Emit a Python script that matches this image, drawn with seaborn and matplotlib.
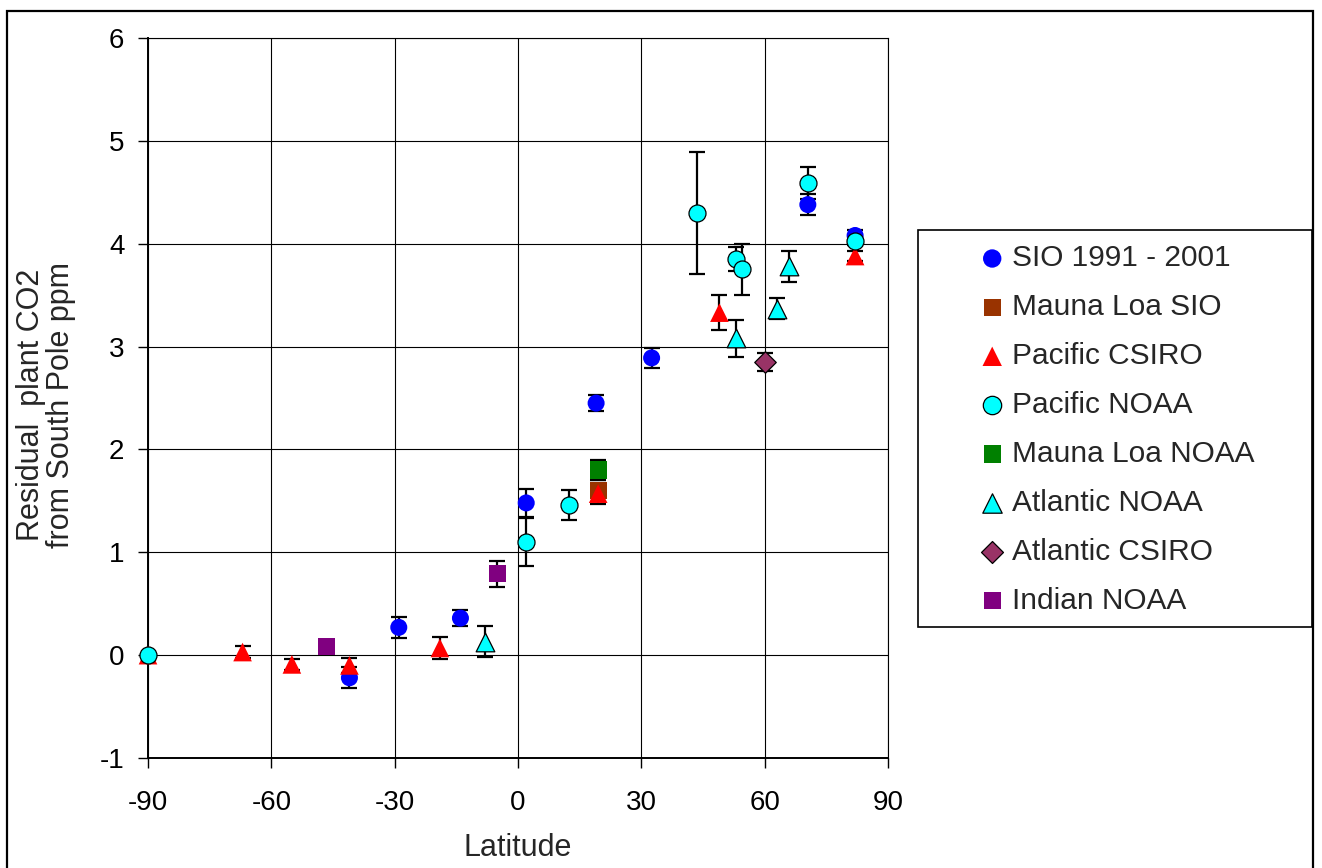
import matplotlib
matplotlib.use("Agg")
import matplotlib.pyplot as plt
import seaborn as sns
import pandas as pd
from matplotlib.patches import Rectangle

# ---------------- data ----------------
sio_lat = [-41, -29, -14, 2, 19, 32.5, 70.5, 82]
sio_val = [-0.22, 0.27, 0.36, 1.48, 2.45, 2.89, 4.38, 4.08]
sio_err = [0.10, 0.10, 0.08, 0.14, 0.08, 0.10, 0.10, 0.05]

mlsio_lat = [19.5]
mlsio_val = [1.60]
mlsio_err = [0.0]

pcs_lat = [-90, -67, -55, -41, -19, 19.5, 49, 82]
pcs_val = [0.0, 0.03, -0.09, -0.10, 0.07, 1.57, 3.33, 3.88]
pcs_err = [0.0, 0.06, 0.05, 0.07, 0.11, 0.10, 0.17, 0.05]

pno_lat = [-90, 2, 12.5, 43.5, 53, 54.5, 70.5, 82]
pno_val = [0.0, 1.10, 1.46, 4.30, 3.85, 3.75, 4.59, 4.03]
pno_err = [0.0, 0.23, 0.15, 0.59, 0.12, 0.25, 0.16, 0.04]

mlno_lat = [19.5]
mlno_val = [1.80]
mlno_err = [0.10]

ano_lat = [-8, 53, 63, 66]
ano_val = [0.13, 3.08, 3.37, 3.78]
ano_err = [0.15, 0.18, 0.10, 0.15]

acs_lat = [60]
acs_val = [2.85]
acs_err = [0.09]

ind_lat = [-46.5, -5]
ind_val = [0.08, 0.79]
ind_err = [0.0, 0.13]

x_ticks = [-90, -60, -30, 0, 30, 60, 90]
y_ticks = [-1, 0, 1, 2, 3, 4, 5, 6]

series = [
    ("SIO 1991 - 2001", sio_lat, sio_val, sio_err, "o", "#0000FF", "none", 150, 175),
    ("Mauna Loa SIO", mlsio_lat, mlsio_val, mlsio_err, "s", "#993300", "none", 150, 155),
    ("Pacific CSIRO", pcs_lat, pcs_val, pcs_err, "^", "#FF0000", "none", 180, 195),
    ("Pacific NOAA", pno_lat, pno_val, pno_err, "o", "#00FFFF", "black", 150, 175),
    ("Mauna Loa NOAA", mlno_lat, mlno_val, mlno_err, "s", "#008000", "none", 150, 155),
    ("Atlantic NOAA", ano_lat, ano_val, ano_err, "^", "#00FFFF", "black", 180, 195),
    ("Atlantic CSIRO", acs_lat, acs_val, acs_err, "D", "#993366", "black", 120, 125),
    ("Indian NOAA", ind_lat, ind_val, ind_err, "s", "#800080", "none", 150, 155),
]

# ---------------- style ----------------
sns.set_style("ticks")
plt.rcParams["font.family"] = ["Liberation Sans", "DejaVu Sans"]
plt.rcParams["axes.unicode_minus"] = False
FS_TICK = 20
FS_LAB = 22
FS_LEG = 21.5

fig = plt.figure(figsize=(13.22, 8.68), dpi=100)
ax = fig.add_axes([148 / 1322, 1 - 758 / 868, 740 / 1322, 720 / 868])

for name, lat, val, err, mk, col, ec, size, lsize in series:
    df = pd.DataFrame({"lat": lat, "val": val, "err": err})
    e = df[df["err"] > 0]
    if len(e):
        ax.errorbar(e["lat"], e["val"], yerr=e["err"], fmt="none", ecolor="black",
                    elinewidth=1.6, capsize=6, capthick=1.6, zorder=2, clip_on=False)
    sns.scatterplot(data=df, x="lat", y="val", marker=mk, color=col, s=size,
                    edgecolor=ec, linewidth=0.9 if ec != "none" else 0,
                    label=name, ax=ax, zorder=3, clip_on=False)

ax.set_xlim(-90, 90)
ax.set_ylim(-1, 6)
ax.set_xticks(x_ticks)
ax.set_yticks(y_ticks)
ax.set_xticklabels([str(t) for t in x_ticks])
ax.set_yticklabels([str(t) for t in y_ticks])
ax.grid(True, color="black", linewidth=0.8)
ax.set_axisbelow(True)
for s in ["top", "right"]:
    ax.spines[s].set_color("black")
    ax.spines[s].set_linewidth(0.8)
for s in ["left", "bottom"]:
    ax.spines[s].set_color("black")
    ax.spines[s].set_linewidth(1.4)
ax.tick_params(axis="both", direction="out", length=7, width=1, colors="black",
               labelsize=FS_TICK)
ax.tick_params(axis="y", pad=10)
ax.tick_params(axis="x", pad=16)

ax.set_xlabel("Latitude", fontsize=FS_LAB, va="center")
ax.xaxis.set_label_coords(0.5, (758 - 848) / 720)
ax.set_ylabel("Residual  plant CO2\nfrom South Pole ppm", fontsize=FS_LAB,
              va="center", ha="center", linespacing=0.98)
ax.yaxis.set_label_coords((46 - 148) / 740, (758 - 405) / 720)

# legend
lx0, lx1, ly0, ly1 = 918, 1312, 230, 627
handles, labels = ax.get_legend_handles_labels()
if ax.get_legend() is not None:
    ax.get_legend().remove()
leg = fig.legend(handles, labels, loc="center", frameon=False, fontsize=FS_LEG,
                 bbox_to_anchor=((lx0 + lx1) / 2 / 1322 + 1 / 1322,
                                 1 - (ly0 + ly1 + 2) / 2 / 868),
                 handlelength=1.0, handletextpad=0.17, labelspacing=0.70,
                 borderpad=0.3)
for h, srs in zip(leg.legend_handles, series):
    h.set_sizes([srs[8]])
fig.patches.append(Rectangle((lx0 / 1322, 1 - ly1 / 868), (lx1 - lx0) / 1322,
                             (ly1 - ly0) / 868, transform=fig.transFigure,
                             fill=False, edgecolor="black", linewidth=1.2))
# figure border
fig.patches.append(Rectangle((7 / 1322, -0.02), (1313 - 7) / 1322, 1 - 11 / 868 + 0.02,
                             transform=fig.transFigure, fill=False,
                             edgecolor="black", linewidth=1.6))

fig.savefig("out.png", dpi=100)
